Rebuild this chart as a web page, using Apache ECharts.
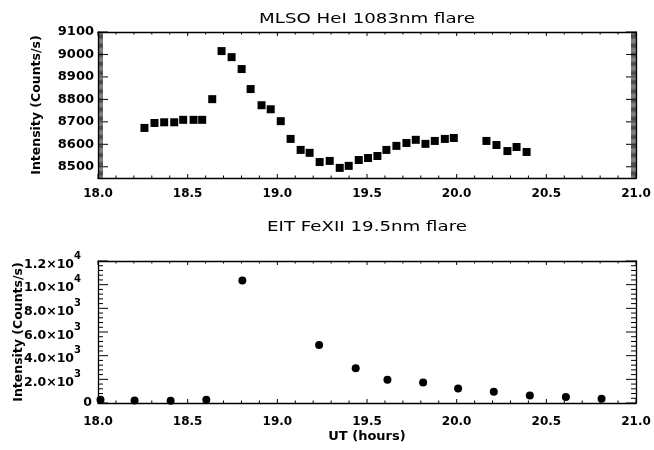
<!DOCTYPE html>
<html>
<head>
<meta charset="utf-8">
<script src="https://cdn.jsdelivr.net/npm/echarts@6/dist/echarts.min.js"></script>
<style>
  html, body { margin: 0; padding: 0; background: #fff; }
  #chart { width: 654px; height: 450px; }
</style>
</head>
<body>
<div id="chart"></div>
<script>
// MLSO He I 1083 nm light curve (UT hours, counts/s)
const heTimes = [18.259, 18.315, 18.369, 18.425, 18.475, 18.533, 18.581, 18.637, 18.689, 18.745,
                 18.801, 18.851, 18.912, 18.963, 19.019, 19.074, 19.130, 19.180, 19.236, 19.292,
                 19.348, 19.398, 19.454, 19.506, 19.558, 19.608, 19.664, 19.720, 19.772, 19.826,
                 19.878, 19.934, 19.984, 20.166, 20.222, 20.283, 20.334, 20.390];
const heCounts = [8673, 8695, 8698, 8698, 8709, 8709, 8709, 8801, 9015, 8988,
                  8935, 8846, 8774, 8756, 8703, 8624, 8575, 8562, 8521, 8526,
                  8495, 8504, 8530, 8539, 8548, 8575, 8593, 8606, 8620, 8602,
                  8615, 8624, 8628, 8615, 8597, 8570, 8588, 8566];

// EIT Fe XII 19.5 nm light curve (UT hours, counts/s)
const eitTimes = [18.014, 18.204, 18.405, 18.604, 18.805, 19.233, 19.437, 19.614,
                  19.813, 20.008, 20.207, 20.408, 20.609, 20.808];
const eitCounts = [278, 219, 194, 278, 10350, 4906, 2945, 1961,
                   1733, 1229, 951, 640, 505, 362];

// Axis ranges and tick spacing
const timeRange = [18, 21];
const timeMajor = 0.5, timeMinor = 0.1;
const heRange = [8450, 9100];
const heMajorTicks = [8500, 8600, 8700, 8800, 8900, 9000, 9100];
const heMinor = 5;
const eitRange = [0, 12000];
const eitMajor = 2000, eitMinor = 400;

// Text
const heTitle = 'MLSO HeI 1083nm flare';
const eitTitle = 'EIT FeXII 19.5nm flare';
const yTitle = 'Intensity (Counts/s)';
const xTitle = 'UT (hours)';

const FONT = '"DejaVu Sans"';
const INK = '#000';

const grids = [
  { left: 98, top: 32, width: 538, height: 146, containLabel: false, outerBoundsMode: 'none' },
  { left: 98, top: 261, width: 538, height: 142, containLabel: false, outerBoundsMode: 'none' }
];

// ---- tick lists: [value, length, thickness] ----
function stepValues(lo, hi, step) {
  const out = [];
  const n = Math.round((hi - lo) / step);
  for (let i = 0; i <= n; i++) out.push(+(lo + i * step).toFixed(6));
  return out;
}
function isMultiple(v, step) {
  const r = v / step;
  return Math.abs(r - Math.round(r)) < 1e-6;
}
const timeTicks = stepValues(timeRange[0], timeRange[1], timeMinor)
  .map(v => [v, isMultiple(v, timeMajor) ? 4 : 2.5, 1]);
const heTicks = stepValues(heRange[0], heRange[1], heMinor)
  .map(v => heMajorTicks.indexOf(v) >= 0 ? [v, 10, 1] : [v, 5, 0.7]);
const eitTicks = stepValues(eitRange[0], eitRange[1], eitMinor)
  .map(v => [v, isMultiple(v, eitMajor) ? 10 : 5, 1]);

// Inward tick marks on all four sides of a panel, anchored at axis values
function tickMarks(yTickList, yRange) {
  const items = [];
  timeTicks.forEach(([v, len, w]) => {
    items.push({ value: [v, yRange[0]], symbolSize: [w, len], symbolOffset: [0, -len / 2] });
    items.push({ value: [v, yRange[1]], symbolSize: [w, len], symbolOffset: [0, len / 2] });
  });
  yTickList.forEach(([v, len, w]) => {
    items.push({ value: [timeRange[0], v], symbolSize: [len, w], symbolOffset: [len / 2, 0] });
    items.push({ value: [timeRange[1], v], symbolSize: [len, w], symbolOffset: [-len / 2, 0] });
  });
  return items;
}

function frameAxisX(gridIndex, position, withLabels, labelMargin, name) {
  return {
    type: 'value', gridIndex, position,
    min: timeRange[0], max: timeRange[1], interval: timeMajor,
    axisLine: { show: true, onZero: false, lineStyle: { color: INK, width: 1.3 } },
    axisTick: { show: false },
    splitLine: { show: false },
    axisLabel: {
      show: withLabels, margin: labelMargin, color: INK,
      fontFamily: FONT, fontWeight: 'bold', fontSize: 12,
      formatter: v => v.toFixed(1)
    },
    name: name || '',
    nameLocation: 'middle', nameGap: 27,
    nameTextStyle: { color: INK, fontFamily: FONT, fontWeight: 'bold', fontSize: 13 }
  };
}

function heAxis(position, withLabels) {
  return {
    type: 'value', gridIndex: 0, position,
    min: heRange[0], max: heRange[1],
    axisLine: { show: true, onZero: false, lineStyle: { color: INK, width: 1.3 } },
    axisTick: { show: false },
    splitLine: { show: false },
    axisLabel: {
      show: withLabels, customValues: heMajorTicks, margin: 4, color: INK,
      fontFamily: FONT, fontWeight: 'bold', fontSize: 13,
      formatter: v => String(v)
    },
    name: withLabels ? yTitle : '',
    nameLocation: 'middle', nameGap: 55, nameRotate: 90, nameMoveOverlap: false,
    nameTextStyle: { color: INK, fontFamily: FONT, fontWeight: 'bold', fontSize: 12.5 }
  };
}

function sciLabel(v) {
  if (v === 0) return '0';
  const e = Math.floor(Math.log10(v) + 1e-9);
  const m = v / Math.pow(10, e);
  return '{b|' + m.toFixed(1) + '×10}{s|' + e + '}{g| }';
}

function eitAxis(position, withLabels) {
  return {
    type: 'value', gridIndex: 1, position,
    min: eitRange[0], max: eitRange[1], interval: eitMajor,
    axisLine: { show: true, onZero: false, lineStyle: { color: INK, width: 1.3 } },
    axisTick: { show: false },
    splitLine: { show: false },
    axisLabel: {
      show: withLabels, margin: 6, color: INK,
      fontFamily: FONT, fontWeight: 'bold', fontSize: 12.5,
      formatter: sciLabel,
      rich: {
        b: { fontFamily: FONT, fontWeight: 'bold', fontSize: 12.5, color: INK, lineHeight: 20, verticalAlign: 'bottom' },
        s: { fontFamily: FONT, fontWeight: 'bold', fontSize: 10, color: INK, lineHeight: 20, verticalAlign: 'top' },
        g: { fontSize: 10, width: 11 }
      }
    },
    name: withLabels ? yTitle : '',
    nameLocation: 'middle', nameGap: 73, nameRotate: 90, nameMoveOverlap: false,
    nameTextStyle: { color: INK, fontFamily: FONT, fontWeight: 'bold', fontSize: 12.5 }
  };
}

function panelTitle(text, y) {
  return {
    type: 'text', x: grids[0].left + grids[0].width / 2, y, scaleX: 1.3,
    style: { text, fill: INK, font: '14px "DejaVu Sans"', align: 'center', verticalAlign: 'middle' }
  };
}

function tickSeries(xAxisIndex, yAxisIndex, yTickList, yRange) {
  return {
    type: 'scatter', xAxisIndex, yAxisIndex, silent: true, clip: false, z: 3,
    symbol: 'rect', itemStyle: { color: INK, opacity: 1 },
    emphasis: { disabled: true },
    data: tickMarks(yTickList, yRange)
  };
}

const chart = echarts.init(document.getElementById('chart'), null, { renderer: 'canvas' });
chart.setOption({
  animation: false,
  backgroundColor: '#fff',
  grid: grids,
  graphic: [panelTitle(heTitle, 19), panelTitle(eitTitle, 227)],
  xAxis: [
    frameAxisX(0, 'bottom', true, 10),
    frameAxisX(0, 'top', false, 0),
    frameAxisX(1, 'bottom', true, 13, xTitle),
    frameAxisX(1, 'top', false, 0)
  ],
  yAxis: [
    heAxis('left', true), heAxis('right', false),
    eitAxis('left', true), eitAxis('right', false)
  ],
  series: [
    tickSeries(0, 0, heTicks, heRange),
    tickSeries(2, 2, eitTicks, eitRange),
    {
      type: 'scatter', xAxisIndex: 0, yAxisIndex: 0,
      symbol: 'rect', symbolSize: 8, itemStyle: { color: INK, opacity: 1 },
      data: heTimes.map((t, i) => [t, heCounts[i]])
    },
    {
      type: 'scatter', xAxisIndex: 2, yAxisIndex: 2,
      symbol: 'circle', symbolSize: 8, itemStyle: { color: INK, opacity: 1 },
      data: eitTimes.map((t, i) => [t, eitCounts[i]])
    }
  ]
});
</script>
</body>
</html>
